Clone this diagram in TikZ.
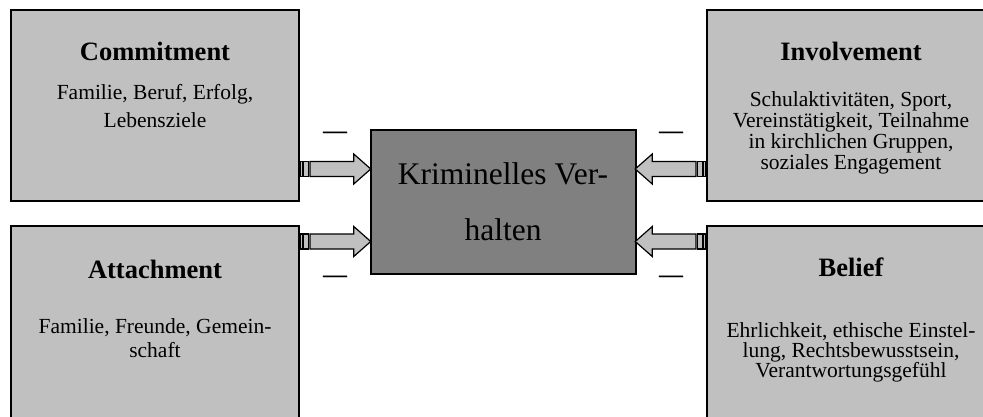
\documentclass[tikz,border=0pt]{standalone}
\usepackage{fontspec}
\setmainfont{Liberation Serif}
\definecolor{factorgray}{HTML}{C0C0C0}
\definecolor{coregray}{HTML}{808080}
\begin{document}
\begin{tikzpicture}[x=1pt,y=-1pt,
  factor/.style={draw=black,line width=1.5pt,fill=factorgray,minimum width=288pt,inner sep=0pt},
  core/.style={draw=black,line width=1.5pt,fill=coregray,minimum width=265pt,minimum height=144pt,inner sep=0pt},
  title/.style={anchor=base,inner sep=0pt,font=\fontsize{26.5}{30}\selectfont\bfseries},
  body/.style={anchor=base,inner sep=0pt,align=center,font=\fontsize{21.5}{#1}\selectfont},
  coretext/.style={anchor=base,inner sep=0pt,align=center,font=\fontsize{31.5}{55}\selectfont},
  minus/.style={anchor=base,inner sep=0pt,font=\fontsize{24}{24}\selectfont\bfseries},
  pics/feed/.style={code={
    \begin{scope}[draw=black,line width=1.2pt,fill=factorgray,line join=miter]
      \filldraw (0.8,-7.5) rectangle (2.4,7.5);
      \filldraw (4,-7.5) rectangle (8.6,7.5);
      \filldraw (10.2,-7.5) -- (54,-7.5) -- (54,-15) -- (71,0) -- (54,15) -- (54,7.5) -- (10.2,7.5) -- cycle;
    \end{scope}}}
]
\useasboundingbox (0,0) rectangle (983,417);
\clip (0,0) rectangle (983,417);

% the four bonds and the behaviour they restrain
\node[factor,minimum height=191pt] (com) at (155,105.5) {};
\node[factor,minimum height=211pt] (att) at (155,331.5) {};
\node[factor,minimum height=191pt] (inv) at (851,105.5) {};
\node[factor,minimum height=211pt] (bel) at (851,331.5) {};
\node[core] (crim) at (503.5,202) {};

% labels (multi-line nodes sit on the baseline of their last line)
\node[title] (comT) at (155,61) {Commitment};
\node[body=28] (comB) at (155,128) {Familie, Beruf, Erfolg,\\Lebensziele};
\node[title] (attT) at (155,278.3) {Attachment};
\node[body=24] (attB) at (155,357.3) {Familie, Freunde, Gemein-\\schaft};
\node[title] (invT) at (851,60.7) {Involvement};
\node[body=20.7] (invB) at (851,169.1) {Schulaktivitäten, Sport,\\Vereinstätigkeit, Teilnahme\\in kirchlichen Gruppen,\\soziales Engagement};
\node[title] (belT) at (851,276.7) {Belief};
\node[body=20.3] (belB) at (851,377.6) {Ehrlichkeit, ethische Einstel-\\lung, Rechtsbewusstsein,\\Verantwortungsgefühl};
\node[coretext] (crimT) at (503,240) {Kriminelles Ver-\\halten};

% striped arrows from each bond into the centre
\pic at (com.east |- 0,169) {feed};
\pic at (att.east |- 0,241.5) {feed};
\pic[rotate=180] at (inv.west |- 0,169) {feed};
\pic[rotate=180] at (bel.west |- 0,241.5) {feed};

% negative signs
\node[minus] (m1) at (335,139) {—};
\node[minus] (m2) at (335,282) {—};
\node[minus] (m3) at (671,139) {—};
\node[minus] (m4) at (671,282) {—};
\end{tikzpicture}
\end{document}
